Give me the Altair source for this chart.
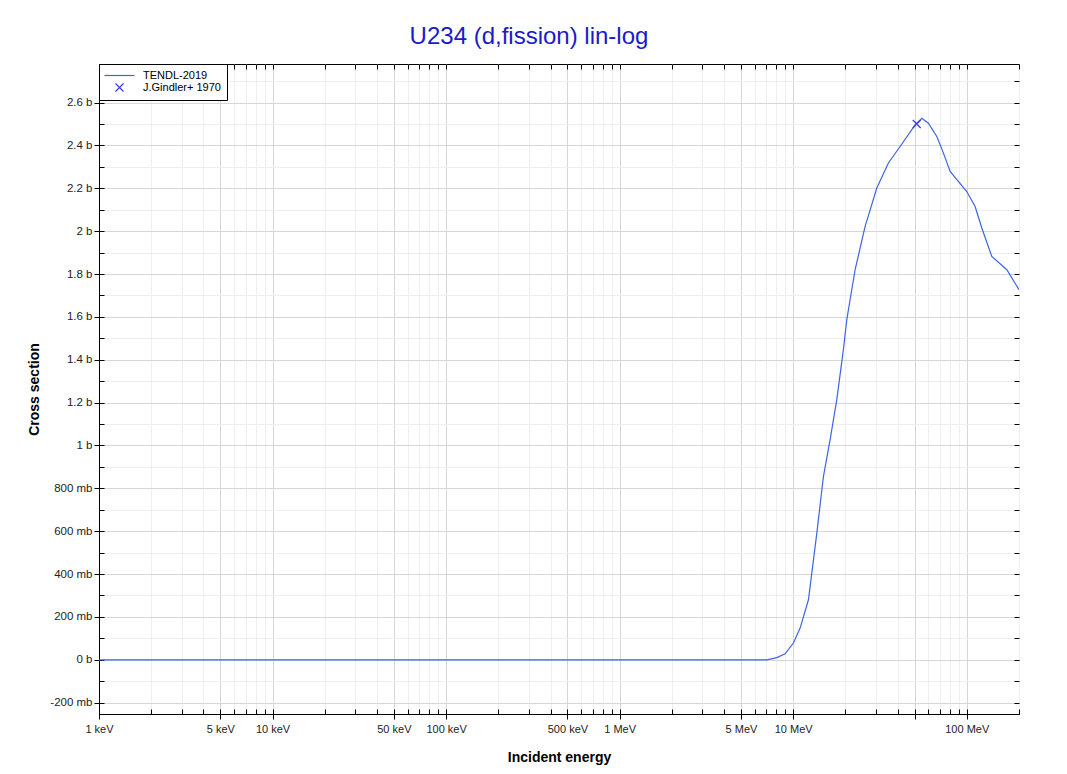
import altair as alt
import pandas as pd

series_names = ["TENDL-2019", "J.Gindler+ 1970"]

tendl_energy_mev = [0.001, 0.01, 0.1, 1.0, 5.0, 7.05, 8.05, 8.98, 10.03, 10.96,
                    12.24, 13.68, 14.93, 16.32, 17.82, 19.46, 20.36, 21.27, 22.74, 25.96,
                    30.32, 35.37, 41.3, 50.4, 55.1, 60.1, 67.2, 73.4, 80.2, 100.0,
                    111.7, 122.1, 139.4, 170.2, 200.0]
tendl_xs_b = [0.0, 0.0, 0.0, 0.0, 0.0, 0.0, 0.01, 0.028, 0.078, 0.148,
              0.28, 0.591, 0.855, 1.027, 1.213, 1.447, 1.587, 1.68, 1.82, 2.022,
              2.201, 2.318, 2.395, 2.496, 2.527, 2.504, 2.442, 2.364, 2.279, 2.185,
              2.115, 2.015, 1.882, 1.82, 1.727]

exp_energy_mev = [51.5]
exp_xs_b = [2.50]

x_major = [0.001, 0.005, 0.01, 0.05, 0.1, 0.5, 1, 5, 10, 50, 100]
x_minor = [m * d for d in [0.001, 0.01, 0.1, 1, 10, 100] for m in [2, 3, 4, 6, 7, 8, 9] if m * d <= 200]
x_all = x_major + x_minor
y_major = [-0.2, 0, 0.2, 0.4, 0.6, 0.8, 1, 1.2, 1.4, 1.6, 1.8, 2, 2.2, 2.4, 2.6]
y_minor = [-0.1, 0.1, 0.3, 0.5, 0.7, 0.9, 1.1, 1.3, 1.5, 1.7, 1.9, 2.1, 2.3, 2.5, 2.7]
y_all = y_major + y_minor

line_df = pd.DataFrame({"energy": tendl_energy_mev, "xs": tendl_xs_b, "series": series_names[0]})
exp_df = pd.DataFrame({"energy": exp_energy_mev, "xs": exp_xs_b, "series": series_names[1]})

LINE_COLOR = "#3c64e6"
MARK_COLOR = "#3a3af0"
FONT = "Liberation Sans"

xs = alt.Scale(type="log", domain=[0.001, 200], nice=False)
ys = alt.Scale(domain=[-0.253, 2.78], nice=False, zero=False)

base = alt.Chart(line_df)


def ghost(xaxis, yaxis):
    return base.mark_line(opacity=0).encode(
        x=alt.X("energy:Q", scale=xs, axis=xaxis),
        y=alt.Y("xs:Q", scale=ys, axis=yaxis),
    )


hidden = dict(labels=False, domain=False, title=None)

grid_layer = ghost(
    alt.Axis(orient="bottom", values=x_minor, grid=True, gridColor="#efefef", gridWidth=1, ticks=False, **hidden),
    alt.Axis(orient="left", values=y_minor, grid=True, gridColor="#efefef", gridWidth=1, ticks=False, **hidden),
)
inner_ticks = ghost(
    alt.Axis(orient="bottom", offset=-5, values=x_all, grid=False, ticks=True, tickSize=5, tickColor="#000", **hidden),
    alt.Axis(orient="left", offset=-5, values=y_all, grid=False, ticks=True, tickSize=5, tickColor="#000", **hidden),
)
outer_ticks = ghost(
    alt.Axis(orient="top", offset=-5, values=x_all, grid=False, ticks=True, tickSize=5, tickColor="#000", **hidden),
    alt.Axis(orient="right", offset=-5, values=y_all, grid=False, ticks=True, tickSize=5, tickColor="#000", **hidden),
)

x_label_expr = ("datum.value == 50 ? '' : datum.value >= 1 ? format(datum.value, '~g') + ' MeV' "
                ": round(datum.value * 1000) + ' keV'")
y_label_expr = ("datum.value == 0 ? '0 b' : abs(datum.value) >= 1 ? format(datum.value, '~g') + ' b' "
                ": round(datum.value * 1000) + ' mb'")

line_layer = base.mark_line(color=LINE_COLOR, strokeWidth=1.2, clip=True).encode(
    x=alt.X("energy:Q", scale=xs, axis=alt.Axis(
        orient="bottom", values=x_major, grid=True, gridColor="#d6d6d6", gridWidth=1,
        ticks=True, tickSize=5, tickColor="#000", domain=True, domainColor="#000",
        labelExpr=x_label_expr, labelFontSize=11, labelColor="#222", labelPadding=4,
        labelFlush=False, labelOverlap=False,
        title="Incident energy", titleFontSize=14, titleFontWeight="bold", titleColor="#000",
        titlePadding=16)),
    y=alt.Y("xs:Q", scale=ys, axis=alt.Axis(
        orient="left", values=y_major, grid=True, gridColor="#d6d6d6", gridWidth=1,
        ticks=True, tickSize=5, tickColor="#000", domain=True, domainColor="#000",
        labelExpr=y_label_expr, labelFontSize=11.5, labelColor="#222", labelPadding=2,
        labelFlush=False, labelOverlap=False,
        title="Cross section", titleFontSize=14, titleFontWeight="bold", titleColor="#000",
        titlePadding=8)),
)

legend = alt.Legend(
    title=None, orient="top-left", offset=0, padding=6,
    strokeColor="#000", fillColor="white", cornerRadius=0,
    labelFontSize=11, labelColor="#000", labelFont=FONT,
    symbolSize=64, symbolStrokeWidth=1.2, symbolOffset=9, labelOffset=18, rowPadding=0,
)

point_layer = alt.Chart(exp_df).mark_point(filled=False, size=64, strokeWidth=1.2, opacity=1).encode(
    x=alt.X("energy:Q", scale=xs, axis=None),
    y=alt.Y("xs:Q", scale=ys, axis=None),
    color=alt.Color("series:N", scale=alt.Scale(domain=series_names, range=[LINE_COLOR, MARK_COLOR]), legend=legend),
    shape=alt.Shape("series:N", scale=alt.Scale(domain=series_names,
                                                range=["M-3.75,0L3.75,0", "M-1,-1L1,1M1,-1L-1,1"]), legend=legend),
)

chart = alt.layer(grid_layer, inner_ticks, outer_ticks, line_layer, point_layer).resolve_axis(
    x="independent", y="independent"
).properties(
    width=920,
    height=650,
    title=alt.TitleParams("U234 (d,fission) lin-log", fontSize=24, color="#1a1acc", font=FONT,
                          fontWeight="normal", anchor="middle", frame="group", dx=-30, offset=15),
    autosize=alt.AutoSizeParams(type="none"),
    padding={"left": 91, "top": 56, "right": 40, "bottom": 52},
).configure(
    font=FONT,
).configure_view(
    stroke="#000", strokeWidth=1,
).configure_axis(
    labelFont=FONT, titleFont=FONT,
)

chart.save("out.html", embed_options={"renderer": "svg", "actions": False})
